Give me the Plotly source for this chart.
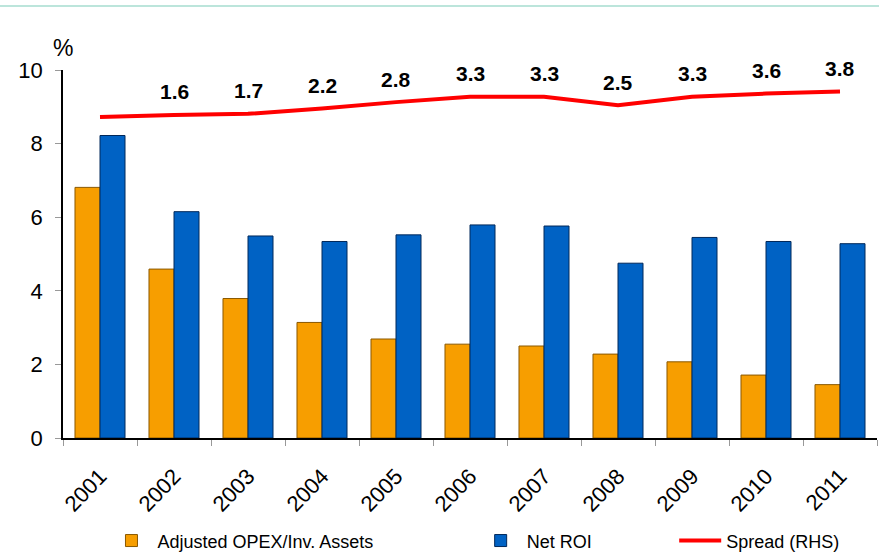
import plotly.graph_objects as go

years = ["2001", "2002", "2003", "2004", "2005", "2006", "2007", "2008", "2009", "2010", "2011"]
opex = [6.81, 4.59, 3.79, 3.14, 2.69, 2.55, 2.50, 2.28, 2.07, 1.71, 1.45]
net_roi = [8.22, 6.15, 5.49, 5.34, 5.52, 5.79, 5.76, 4.75, 5.45, 5.34, 5.28]
spread = [1.4, 1.6, 1.7, 2.2, 2.8, 3.3, 3.3, 2.5, 3.3, 3.6, 3.8]
spread_labels = ["", "1.6", "1.7", "2.2", "2.8", "3.3", "3.3", "2.5", "3.3", "3.6", "3.8"]

FONT = "Liberation Sans, Arial, sans-serif"

fig = go.Figure()
fig.add_trace(go.Bar(
    x=years, y=opex, name="Adjusted OPEX/Inv. Assets", legend="legend",
    marker=dict(color="#F79E00", line=dict(color="#8A5800", width=1)),
))
fig.add_trace(go.Bar(
    x=years, y=net_roi, name="Net ROI", legend="legend2",
    marker=dict(color="#0062C4", line=dict(color="#00285A", width=1)),
))
fig.add_trace(go.Scatter(
    x=years, y=spread, name="Spread (RHS)", yaxis="y2", legend="legend3",
    mode="lines", line=dict(color="#FF0000", width=4),
))

annotations = [dict(text="%", xref="paper", yref="paper", x=0.0, y=1.02,
                    xanchor="center", yanchor="bottom", showarrow=False,
                    font=dict(size=23))]
for i, (v, lab) in enumerate(zip(spread, spread_labels)):
    if lab:
        annotations.append(dict(x=i, y=v, xref="x", yref="y2", text=lab,
                                showarrow=False, yshift=23, yanchor="middle",
                                font=dict(size=21, color="black", weight="bold")))

leg_common = dict(orientation="h", yanchor="middle", y=0.022, xanchor="left",
                  xref="container", yref="container", itemwidth=42,
                  font=dict(size=18), bgcolor="rgba(0,0,0,0)")

fig.update_layout(
    width=879, height=553,
    margin=dict(l=63, r=2, t=70, b=115, autoexpand=False),
    paper_bgcolor="white", plot_bgcolor="white",
    font=dict(family=FONT, color="black"),
    barmode="group", bargap=0.324, bargroupgap=0,
    showlegend=True,
    legend=dict(x=0.120, **leg_common),
    legend2=dict(x=0.540, **leg_common),
    legend3=dict(x=0.767, **leg_common),
    xaxis=dict(
        type="category", showline=True, linecolor="black", linewidth=1.5,
        ticks="outside", tickson="boundaries", ticklen=6, tickcolor="#999999",
        tickangle=-46, tickfont=dict(size=22), showgrid=False,
        automargin=False, ticklabelstandoff=15,
    ),
    yaxis=dict(
        range=[0, 10], dtick=2, showline=True, linecolor="black", linewidth=1.5,
        ticks="outside", ticklen=6, tickcolor="#999999", tickfont=dict(size=22),
        showgrid=False, zeroline=False, automargin=False, ticklabelstandoff=8,
    ),
    yaxis2=dict(
        overlaying="y", side="right", range=[-28.68, 5.81], visible=False,
    ),
    shapes=[dict(type="line", xref="paper", yref="paper", x0=-0.08, x1=1.01,
                 y0=1.174, y1=1.174, line=dict(color="#A6DCCF", width=1.5))],
    annotations=annotations,
)

fig.write_html("out.html", config={"displayModeBar": False},
               post_script="document.body.style.margin='0';")
